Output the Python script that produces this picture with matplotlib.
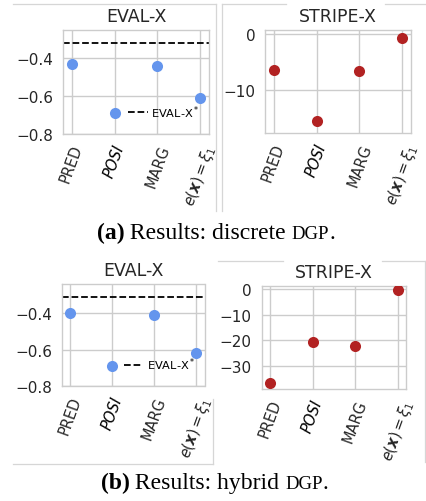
import matplotlib
matplotlib.use("Agg")
import matplotlib.pyplot as plt
from matplotlib.lines import Line2D
from matplotlib.offsetbox import TextArea, HPacker, AnnotationBbox

# ---------------- data ----------------
methods = ["PRED", "POSI", "MARG", r"$e(\boldsymbol{x}) = \xi_1$"]
discrete_evalx = [-0.43, -0.69, -0.44, -0.61]
discrete_evalx_ref = -0.32
discrete_stripex = [-6.5, -15.7, -6.6, -0.7]
hybrid_evalx = [-0.40, -0.69, -0.41, -0.62]
hybrid_evalx_ref = -0.31
hybrid_stripex = [-36.4, -20.5, -22.3, -0.5]
evalx_ticks = [-0.4, -0.6, -0.8]
stripe_ticks_discrete = [0, -10]
stripe_ticks_hybrid = [0, -10, -20, -30]

BLUE = "#6495ED"
RED = "#B22222"
GRID = "#cccccc"
TXT = "#262626"

W, H = 426, 502
fig = plt.figure(figsize=(W / 100, H / 100), dpi=100)
plt.rcParams["font.family"] = ["DejaVu Sans"]
plt.rcParams["mathtext.fontset"] = "dejavusans"


def px_axes(l, t, r, b):
    return fig.add_axes([l / W, 1 - b / H, (r - l) / W, (b - t) / H])


def style(ax, title, ylim, yticks, xlim):
    ax.set_facecolor("white")
    for s in ax.spines.values():
        s.set_color(GRID)
        s.set_linewidth(1.0)
    ax.set_axisbelow(True)
    ax.grid(True, color=GRID, linewidth=1.0)
    ax.set_xlim(*xlim)
    ax.set_ylim(*ylim)
    ax.set_yticks(yticks)
    ax.set_yticklabels([f"{v:g}".replace("-", "\u2212") for v in yticks])
    ax.set_xticks(range(len(methods)))
    ax.set_xticklabels(methods, rotation=70, ha="center")
    ax.tick_params(axis="both", length=0, colors=TXT, labelsize=11)
    ax.tick_params(axis="y", pad=7)
    ax.tick_params(axis="x", pad=6, labelsize=10.5)
    for lab in ax.get_xticklabels():
        if lab.get_text() == "POSI":
            lab.set_fontstyle("italic")
            lab.set_color("black")
    ax.set_title(title, fontsize=12.5, color=TXT, pad=6.5)


def evalx_panel(ax, vals, ref, ylim):
    style(ax, "EVAL-X", ylim, evalx_ticks, (-0.2, 3.2))
    ax.scatter(range(len(vals)), vals, s=64, color=BLUE, zorder=3, linewidths=0)
    ax.axhline(ref, color="black", linestyle="--", linewidth=1.3,
               label=r"EVAL-X$^*$", zorder=2)
    ax.legend(loc="lower right", frameon=False, fontsize=8.2,
              handlelength=1.7, handletextpad=0.3, borderaxespad=0.3,
              bbox_to_anchor=(0.99, 0.06))


def stripe_panel(ax, vals, ylim, yticks):
    style(ax, "STRIPE-X", ylim, yticks, (-0.2, 3.2))
    ax.scatter(range(len(vals)), vals, s=64, color=RED, zorder=3, linewidths=0)


a1 = px_axes(63, 31, 209, 135)
evalx_panel(a1, discrete_evalx, discrete_evalx_ref, (-0.8, -0.25))
a2 = px_axes(265, 31, 411, 134)
stripe_panel(a2, discrete_stripex, (-17.8, 0.7), stripe_ticks_discrete)
b1 = px_axes(62, 285, 204.5, 387)
evalx_panel(b1, hybrid_evalx, hybrid_evalx_ref, (-0.8, -0.24))
b2 = px_axes(261.5, 287, 406, 390)
stripe_panel(b2, hybrid_stripex, (-38.7, 1.0), stripe_ticks_hybrid)


# faint image borders of the sub-figures
def fline(x0, y0, x1, y1):
    fig.add_artist(Line2D([x0 / W, x1 / W], [1 - y0 / H, 1 - y1 / H],
                          color="#d6d6d6", linewidth=0.9, transform=fig.transFigure))


fline(13, 5, 216, 5)
fline(216, 5, 216, 212)
fline(221.5, 5, 286, 5)
fline(385, 5, 426, 5)
fline(221.5, 5, 221.5, 212)
fline(13, 465, 213, 465)
fline(213, 400, 213, 465)
fline(218, 262, 283, 262)
fline(382, 262, 426, 262)
fline(425, 262, 425, 463)


# captions
def caption(xc, yc, label, word):
    parts = [
        TextArea(f"({label})", textprops=dict(family="Liberation Serif", weight="bold", size=17, color="black")),
        TextArea(f" Results: {word} ", textprops=dict(family="Liberation Serif", size=17, color="black")),
        TextArea("DGP", textprops=dict(family="Liberation Serif", size=13.5, color="black")),
        TextArea(".", textprops=dict(family="Liberation Serif", size=17, color="black")),
    ]
    box = HPacker(children=parts, align="baseline", pad=0, sep=0)
    ab = AnnotationBbox(box, (xc / W, 1 - yc / H), xycoords="figure fraction",
                        frameon=False, box_alignment=(0.5, 0.5), pad=0)
    fig.add_artist(ab)


caption(216, 233, "a", "discrete")
caption(214.5, 483, "b", "hybrid")

fig.savefig("out.png", dpi=100, facecolor="white")
